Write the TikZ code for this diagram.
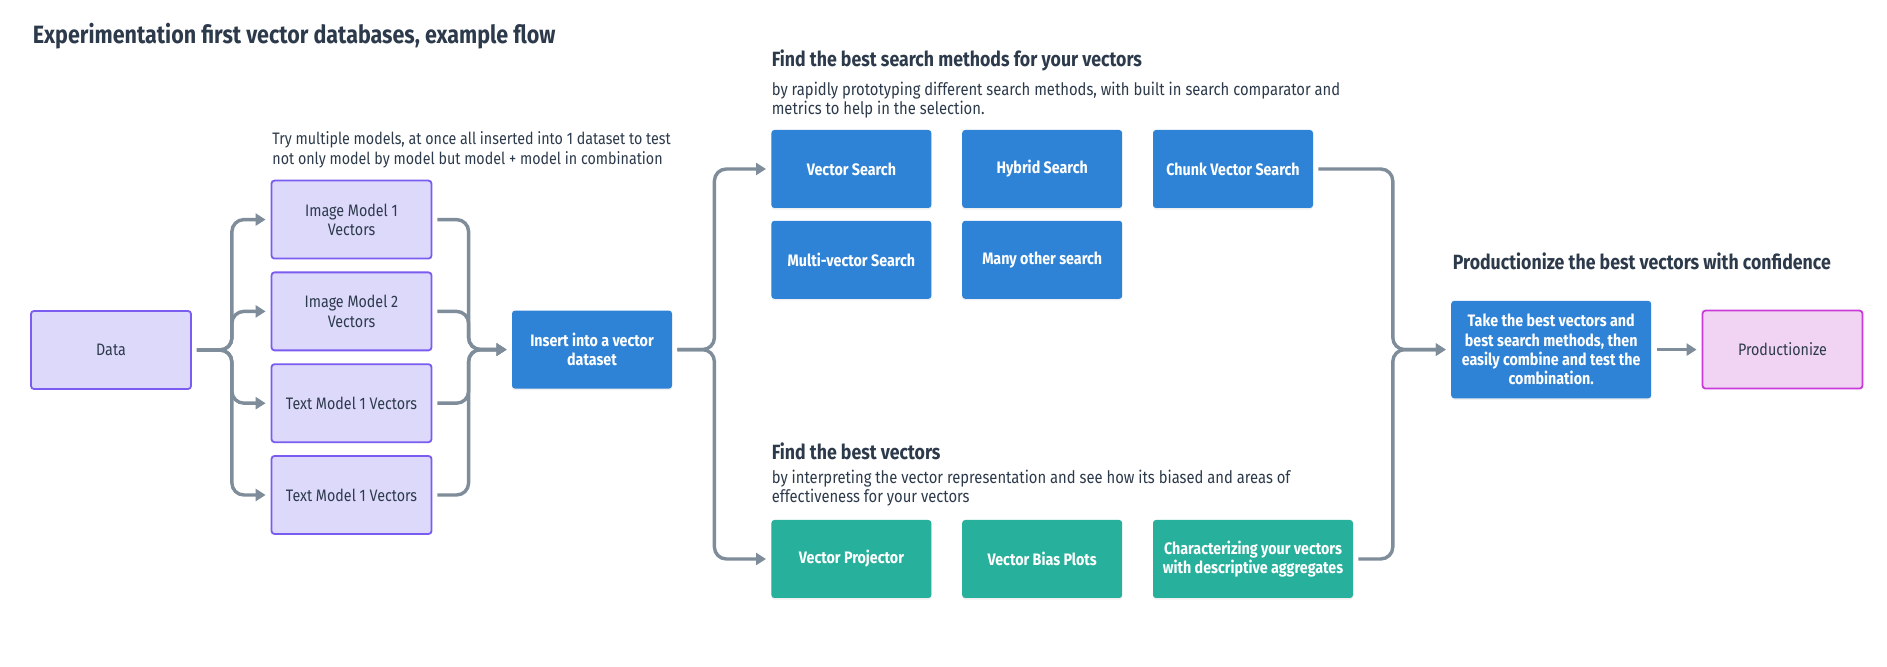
\documentclass[tikz,border=0pt]{standalone}
\usepackage{fontspec}
\setmainfont{Fira Sans}[FakeStretch=0.86]
\usetikzlibrary{arrows.meta,positioning,shadows}
\definecolor{ink}{HTML}{2C3A4B}
\definecolor{flowgray}{HTML}{7F8D9A}
\definecolor{modelfill}{HTML}{DDD9FB}
\definecolor{modelline}{HTML}{7B5CF0}
\definecolor{searchblue}{HTML}{2F83D7}
\definecolor{vecteal}{HTML}{27B09B}
\definecolor{prodfill}{HTML}{F1D3F3}
\definecolor{prodline}{HTML}{C83BD8}
\newcommand{\notefont}{\fontsize{8.3}{10.25}\selectfont}
\newcommand{\subfont}{\fontsize{8.6}{9.6}\selectfont}
\newcommand{\boxfont}{\fontsize{8.3}{9.6}\selectfont}
\newcommand{\boxbold}{\fontsize{8.3}{9.6}\selectfont\bfseries}
\newcommand{\headfont}{\fontsize{10.3}{12}\selectfont\bfseries}
\newcommand{\titlefont}{\fontsize{12.5}{14}\selectfont\bfseries}
\tikzset{
  boxbase/.style={rectangle,rounded corners=1.5pt,minimum width=80pt,minimum height=39pt,align=center,inner sep=2pt},
  mbox/.style={boxbase,draw=modelline,fill=modelfill,line width=0.9pt,text=ink,font=\boxfont},
  sbox/.style={boxbase,fill=searchblue,text=white,font=\boxbold,drop shadow={opacity=0.12,shadow xshift=0pt,shadow yshift=-0.8pt}},
  vbox/.style={boxbase,fill=vecteal,text=white,font=\boxbold,drop shadow={opacity=0.12,shadow xshift=0pt,shadow yshift=-0.8pt}},
  pbox/.style={boxbase,draw=prodline,fill=prodfill,line width=0.9pt,text=ink,font=\boxfont},
  flow/.style={draw=flowgray,line width=1.7pt,rounded corners=6pt,->,shorten <=2.5pt,shorten >=2.5pt},
  head/.style={anchor=west,inner sep=0pt,text=ink,font=\headfont},
  note/.style={anchor=west,inner sep=0pt,align=left,text=ink,font=\notefont}
}

\begin{document}
\begin{tikzpicture}[x=0.5pt,y=-0.5pt,>={Triangle[length=5pt,width=6pt]},node distance=6pt and 15pt]
\fill[white] (0,0) rectangle (1887,667);
\useasboundingbox (0,0) rectangle (1887,667);

\node[head,font=\titlefont] (title) at (32.5,36) {Experimentation first vector databases, example flow};

% models into one dataset
\node[mbox] (data) at (111,350) {Data};
\node[note] (try) at (272,150) {Try multiple models, at once all inserted into 1 dataset to test\\not only model by model but model + model in combination};
\node[mbox] (img1) at (351.5,219.6) {Image Model 1\\Vectors};
\node[mbox,below=of img1] (img2) {Image Model 2\\Vectors};
\node[mbox,below=of img2] (txt1) {Text Model 1 Vectors};
\node[mbox,below=of txt1] (txt2) {Text Model 1 Vectors};
\node[sbox] (ins) at (592,349.6) {Insert into a vector\\dataset};
\foreach \m in {img1,img2,txt1,txt2} {
  \draw[flow] (data.east) -- ++(40,0) |- (\m.west);
  \draw[flow,<-] (ins.west) -- ++(-43,0) |- (\m.east);
}

% search methods
\node[head] (shead) at (771.4,60.2) {Find the best search methods for your vectors};
\node[note,font=\subfont] (snote) at (771.4,100) {by rapidly prototyping different search methods, with built in search comparator and\\metrics to help in the selection.};
\node[sbox] (vs) at (851.4,169) {Vector Search};
\node[sbox,right=of vs] (hs) {Hybrid Search};
\node[sbox,right=of hs] (cs) {Chunk Vector Search};
\node[sbox,below=of vs] (mv) {Multi-vector Search};
\node[sbox,below=of hs] (mo) {Many other search};

% vectors
\node[head] (vhead) at (771.4,451.3) {Find the best vectors};
\node[note,font=\subfont] (vnote) at (771.4,488.5) {by interpreting the vector representation and see how its biased and areas of\\effectiveness for your vectors};
\node[vbox] (vp) at (851.4,559) {Vector Projector};
\node[vbox,right=of vp] (vb) {Vector Bias Plots};
\node[vbox,right=of vb,minimum width=100pt] (cv) {Characterizing your vectors\\with descriptive aggregates};
\draw[flow] (ins.east) -- ++(42,0) |- (vs.west);
\draw[flow] (ins.east) -- ++(42,0) |- (vp.west);

% productionize
\node[head] (phead) at (1452.5,261.1) {Productionize the best vectors with confidence};
\node[sbox,minimum width=100pt,minimum height=48.7pt] (take) at (1551.2,349.6) {Take the best vectors and\\best search methods, then\\easily combine and test the\\combination.};
\node[pbox,right=25pt of take] (prod) {Productionize};
\draw[flow,<-] (take.west) -- ++(-58,0) |- (cs.east);
\draw[flow,<-] (take.west) -- ++(-58,0) |- (cv.east);
\draw[flow] (take) -- (prod);
\end{tikzpicture}
\end{document}
